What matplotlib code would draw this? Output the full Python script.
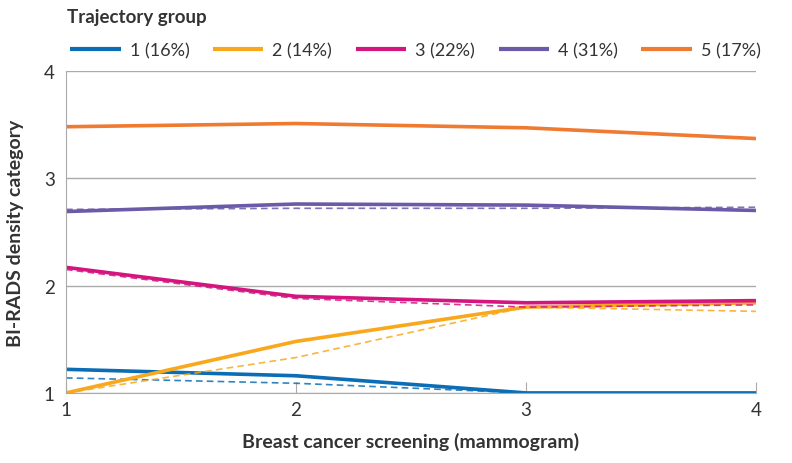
import numpy as np
import matplotlib.pyplot as plt

screening = [1, 2, 3, 4]
labels = ["1 (16%)", "2 (14%)", "3 (22%)", "4 (31%)", "5 (17%)"]
colors = ["#0a6db5", "#f9a81b", "#d4147f", "#6a5aa8", "#ef7a30"]

# observed (solid) and predicted (dashed) mean density per group
obs = [
    [1.22, 1.16, 1.00, 1.00],
    [1.00, 1.48, 1.80, 1.84],
    [2.17, 1.90, 1.84, 1.86],
    [2.69, 2.76, 2.75, 2.70],
    [3.48, 3.51, 3.47, 3.37],
]
pred = [
    [1.14, 1.09, 1.00, 1.00],
    [1.00, 1.33, 1.80, 1.76],
    [2.15, 1.88, 1.80, 1.82],
    [2.71, 2.72, 2.72, 2.73],
    [3.48, 3.51, 3.47, 3.37],
]

plt.rcParams['font.family'] = ['Lato', 'DejaVu Sans']

fig = plt.figure(figsize=(7.92, 4.64), dpi=100)
ax = fig.add_axes([0.0833, 0.151, 0.8712, 0.694])

for i in range(len(labels)):
    ax.plot(screening, pred[i], color=colors[i], lw=1.2, ls=(0, (4, 2.5)), alpha=0.85)
    ax.plot(screening, obs[i], color=colors[i], lw=2.6, label=labels[i],
            solid_capstyle='butt')

ax.set_xlim(1, 4)
ax.set_ylim(1, 4)
ax.set_xticks([1, 2, 3, 4])
ax.set_yticks([1, 2, 3, 4])
ax.grid(axis='y', color='#aaaaaa', lw=1)
ax.set_axisbelow(True)
for s in ['top', 'right']:
    ax.spines[s].set_visible(False)
for s in ['left', 'bottom']:
    ax.spines[s].set_color('#aaaaaa')
ax.tick_params(axis='x', direction='in', length=8, color='#aaaaaa', labelsize=13.5,
               labelcolor='#333333', pad=6)
ax.tick_params(axis='y', length=0, labelsize=13.5, labelcolor='#333333', pad=8)

ax.set_xlabel("Breast cancer screening (mammogram)", fontsize=14, fontweight='bold',
              color='#333333', labelpad=10)
ax.set_ylabel("BI-RADS density category", fontsize=14, fontweight='bold',
              color='#333333', labelpad=14)

fig.text(0.085, 0.962, "Trajectory group", fontsize=13.5, fontweight='bold',
         color='#333333', va='center')
leg = fig.legend(loc='center left', bbox_to_anchor=(0.068, 0.89), ncol=5,
                 frameon=False, fontsize=13, handlelength=2.8, columnspacing=1.3,
                 handletextpad=0.5)
for t in leg.get_texts():
    t.set_color('#333333')
for h in leg.get_lines():
    h.set_linewidth(3)

fig.savefig("out.png", dpi=100)
